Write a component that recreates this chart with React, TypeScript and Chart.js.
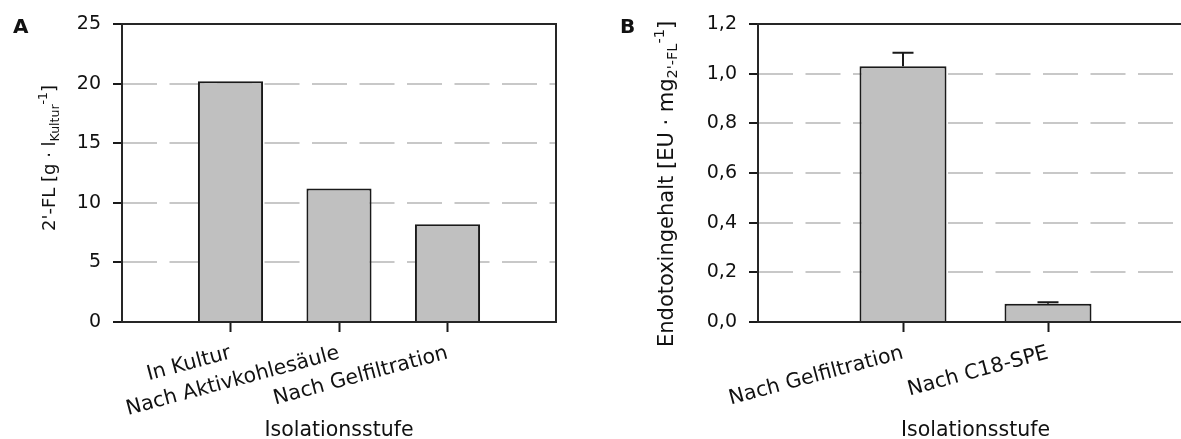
import React, { useEffect, useRef } from 'react';
import { Chart, registerables } from 'chart.js';

Chart.register(...registerables);

const FONT = '"DejaVu Sans", "Liberation Sans", sans-serif';

// Panel A data
const categoriesA = ['In Kultur', 'Nach Aktivkohlesäule', 'Nach Gelfiltration'];
const valuesA = [20.2, 11.2, 8.2];
const yTicksA = [0, 5, 10, 15, 20, 25];
const yTickLabelsA = ['0', '5', '10', '15', '20', '25'];

// Panel B data
const categoriesB = ['Nach Gelfiltration', 'Nach C18-SPE'];
const valuesB = [1.03, 0.073];
const errorsB = [0.054, 0.007];
const yTicksB = [0, 0.2, 0.4, 0.6, 0.8, 1.0, 1.2];
const yTickLabelsB = ['0,0', '0,2', '0,4', '0,6', '0,8', '1,0', '1,2'];

const xTitle = 'Isolationsstufe';

type Part = { text: string; size: number; dy: number };

const yTitleA: Part[] = [
  { text: "2'-FL [g · l", size: 18, dy: 0 },
  { text: 'Kultur', size: 12.5, dy: 4 },
  { text: '-1', size: 12.5, dy: -8 },
  { text: ']', size: 18, dy: 0 },
];
const yTitleB: Part[] = [
  { text: 'Endotoxingehalt [EU · mg', size: 21, dy: 0 },
  { text: "2'-FL", size: 14.5, dy: 4 },
  { text: '-1', size: 14.5, dy: -9 },
  { text: ']', size: 21, dy: 0 },
];

type Spec = {
  letter: string;
  letterX: number;
  categories: string[];
  values: number[];
  errors?: number[];
  yTicks: number[];
  yTickLabels: string[];
  xMax: number;
  yTitle: Part[];
  yTitleX: number;
  yTitleY: number;
  padRight: number;
  yWidth: number;
};

function buildChart(canvas: HTMLCanvasElement, spec: Spec) {
  const yMin = spec.yTicks[0];
  const yMax = spec.yTicks[spec.yTicks.length - 1];
  const isEdge = (v: number) => Math.abs(v - yMin) < 1e-9 || Math.abs(v - yMax) < 1e-9;

  const deco = {
    id: 'deco' + spec.letter,
    afterDatasetsDraw(chart: any) {
      const { ctx, chartArea: a, scales } = chart;
      if (spec.errors) {
        const meta = chart.getDatasetMeta(0);
        ctx.save();
        ctx.strokeStyle = '#1a1a1a';
        ctx.lineWidth = 2;
        meta.data.forEach((bar: any, i: number) => {
          const top = scales.y.getPixelForValue(spec.values[i]);
          const end = scales.y.getPixelForValue(spec.values[i] + spec.errors![i]);
          ctx.beginPath();
          ctx.moveTo(bar.x, top);
          ctx.lineTo(bar.x, end);
          ctx.moveTo(bar.x - 10.5, end);
          ctx.lineTo(bar.x + 10.5, end);
          ctx.stroke();
        });
        ctx.restore();
      }
      ctx.save();
      ctx.strokeStyle = '#262626';
      ctx.lineWidth = 2;
      ctx.strokeRect(a.left, a.top, a.right - a.left, a.bottom - a.top);
      ctx.restore();
    },
    afterDraw(chart: any) {
      const { ctx, chartArea: a } = chart;
      ctx.save();
      ctx.fillStyle = '#111';
      ctx.textBaseline = 'alphabetic';
      ctx.textAlign = 'left';
      ctx.font = `bold 20px ${FONT}`;
      ctx.fillText(spec.letter, spec.letterX, 33);
      ctx.font = `20.5px ${FONT}`;
      ctx.textAlign = 'center';
      ctx.fillText(xTitle, (a.left + a.right) / 2, 436);
      ctx.translate(spec.yTitleX, spec.yTitleY);
      ctx.rotate(-Math.PI / 2);
      ctx.textAlign = 'left';
      let cx = 0;
      for (const p of spec.yTitle) {
        ctx.font = `${p.size}px ${FONT}`;
        ctx.fillText(p.text, cx, p.dy);
        cx += ctx.measureText(p.text).width;
      }
      ctx.restore();
    },
  };

  return new Chart(canvas, {
    type: 'bar',
    data: {
      datasets: [
        {
          data: spec.values.map((v, i) => ({ x: i + 1, y: v })),
          backgroundColor: '#c0c0c0',
          borderColor: '#1a1a1a',
          borderWidth: 2,
          barPercentage: 0.6,
          categoryPercentage: 1,
        } as any,
      ],
    },
    options: {
      responsive: false,
      animation: false,
      devicePixelRatio: 1,
      layout: { padding: { left: 0, top: 24, right: spec.padRight, bottom: 0 } },
      plugins: { legend: { display: false }, tooltip: { enabled: false } },
      scales: {
        x: {
          type: 'linear',
          min: 0,
          max: spec.xMax,
          offset: false,
          afterBuildTicks: (s: any) => {
            s.ticks = spec.categories.map((_, i) => ({ value: i + 1 }));
          },
          afterFit: (s: any) => {
            s.height = 117;
          },
          ticks: {
            callback: (v: any) => spec.categories[Math.round(Number(v)) - 1] ?? '',
            minRotation: 15,
            maxRotation: 15,
            autoSkip: false,
            padding: 9,
            color: '#111',
            font: { family: FONT, size: 20.5 },
          },
          grid: {
            offset: false,
            drawOnChartArea: false,
            drawTicks: true,
            tickLength: 10,
            tickColor: '#1a1a1a',
            tickWidth: 2,
          },
          border: { display: false },
        },
        y: {
          min: yMin,
          max: yMax,
          afterBuildTicks: (s: any) => {
            s.ticks = spec.yTicks.map((v) => ({ value: v }));
          },
          afterFit: (s: any) => {
            s.width = spec.yWidth;
          },
          ticks: {
            callback: (_v: any, i: number) => spec.yTickLabels[i],
            padding: 12,
            color: '#111',
            font: { family: FONT, size: 19 },
          },
          grid: {
            color: (c: any) => (c.tick && isEdge(c.tick.value) ? 'rgba(0,0,0,0)' : '#c8c8c8'),
            lineWidth: 2,
            drawTicks: true,
            tickLength: 9,
            tickColor: '#1a1a1a',
            tickWidth: 2,
          },
          border: { display: false, dash: [35, 12.5] },
        },
      },
    } as any,
    plugins: [deco],
  });
}

export default function App() {
  const refA = useRef<HTMLCanvasElement>(null);
  const refB = useRef<HTMLCanvasElement>(null);

  useEffect(() => {
    const a = buildChart(refA.current!, {
      letter: 'A',
      letterX: 13,
      categories: categoriesA,
      values: valuesA,
      yTicks: yTicksA,
      yTickLabels: yTickLabelsA,
      xMax: categoriesA.length + 1,
      yTitle: yTitleA,
      yTitleX: 55,
      yTitleY: 231,
      padRight: 34,
      yWidth: 122,
    });
    const b = buildChart(refB.current!, {
      letter: 'B',
      letterX: 30,
      categories: categoriesB,
      values: valuesB,
      errors: errorsB,
      yTicks: yTicksB,
      yTickLabels: yTickLabelsB,
      xMax: categoriesB.length + 1,
      yTitle: yTitleB,
      yTitleX: 83,
      yTitleY: 347,
      padRight: 17,
      yWidth: 168,
    });
    return () => {
      a.destroy();
      b.destroy();
    };
  }, []);

  return (
    <div
      style={{
        position: 'fixed',
        left: 0,
        top: 0,
        width: 1181,
        height: 439,
        overflow: 'hidden',
        background: '#fff',
      }}
    >
      <canvas ref={refA} width={590} height={439} style={{ position: 'absolute', left: 0, top: 0 }} />
      <canvas ref={refB} width={620} height={439} style={{ position: 'absolute', left: 590, top: 0 }} />
    </div>
  );
}
